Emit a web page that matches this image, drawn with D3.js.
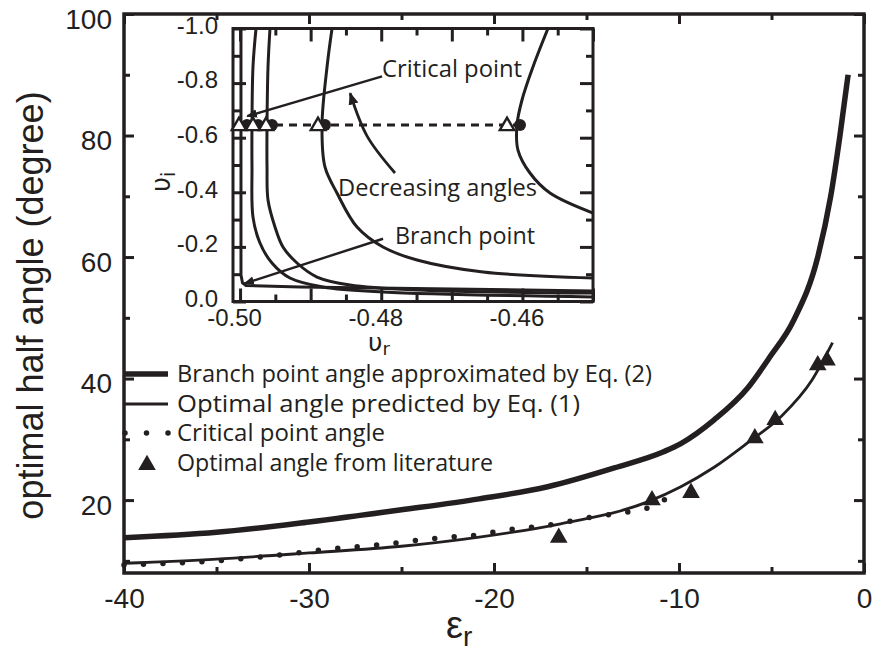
<!DOCTYPE html>
<html><head><meta charset="utf-8">
<script src="https://cdn.jsdelivr.net/npm/d3@7"></script>
<style>
body{margin:0;background:#fff}
svg{display:block}
.ax text{font-family:"Liberation Sans",Arial,sans-serif;fill:#231f20}
.ax line{stroke:#231f20}
.lab{font-family:"Open Sans",sans-serif;fill:#231f20}
</style></head><body>
<svg id="c" width="876" height="654"></svg>
<script>
// ---------------- main chart data ----------------
const xMajor = [-40, -30, -20, -10, 0];
const xMajorLabels = ["-40", "-30", "-20", "-10", "0"];
const xMinor = [-35, -25, -15, -5];
const yMajor = [20, 40, 60, 80, 100];
const yMajorLabels = ["20", "40", "60", "80", "100"];
const yMinor = [10, 30, 50, 70, 90];

// Branch point angle approximated by Eq. (2)
const branchEps = [-40, -35, -30, -25, -20.8, -17.1, -13.5, -10.8, -9.9, -8.1, -6.3, -5.1, -3.8, -2.5, -1.8, -1.3, -0.86];
const branchAng = [13.8, 14.7, 16.4, 18.4, 20.2, 22.2, 25.3, 28.0, 29.3, 33.2, 38.4, 43.5, 49.6, 60.0, 70.0, 80.0, 90.0];
// Optimal angle predicted by Eq. (1)
const optEps = [-40, -35, -30, -25, -20.8, -16.4, -11.7, -9.9, -8.1, -6.3, -4.5, -2.8, -1.7];
const optAng = [9.6, 10.3, 11.3, 12.4, 13.9, 16.1, 19.7, 22.2, 25.4, 29.4, 33.7, 39.8, 45.9];
// Critical point angle
const critEps = [-40, -37.6, -35.5, -31.2, -29, -26, -24.9, -22.8, -20.8, -19.7, -17, -14.7, -13.1, -11.5, -10.3];
const critAng = [9.3, 9.6, 9.9, 11.1, 11.9, 12.7, 13.1, 13.8, 14.3, 14.9, 15.9, 17.2, 17.9, 18.9, 21.0];
// Optimal angle from literature
const litEps = [-16.5, -11.46, -9.35, -5.9, -4.8, -2.5, -2.0];
const litAng = [13.8, 20.0, 21.2, 30.2, 33.2, 42.2, 43.0];

const legendLabels = ["Branch point angle approximated by Eq. (2)", "Optimal angle predicted by Eq. (1)", "Critical point angle", "Optimal angle from literature"];

// ---------------- inset data ----------------
const ixMajor = [-0.50, -0.49, -0.48, -0.47, -0.46, -0.45];
const ixLabelVals = [-0.50, -0.48, -0.46];
const ixLabels = ["-0.50", "-0.48", "-0.46"];
const ixMinor = [-0.495, -0.485, -0.475, -0.465, -0.455];
const iyMajor = [-1.0, -0.8, -0.6, -0.4, -0.2, 0.0];
const iyLabels = ["-1.0", "-0.8", "-0.6", "-0.4", "-0.2", "0.0"];
const iyMinor = [-0.9, -0.7, -0.5, -0.3, -0.1];

const c1r = [-0.49987, -0.49987, -0.49965, -0.49916, -0.49151, -0.45];
const c1i = [-1.0, -0.0971, -0.0678, -0.0586, -0.0531, -0.0385];
const c2r = [-0.49774, -0.49817, -0.49831, -0.49831, -0.49817, -0.49718, -0.49548, -0.49293, -0.48825, -0.47975, -0.45];
const c2i = [-1.0, -0.859, -0.6465, -0.4927, -0.3095, -0.2143, -0.1410, -0.0861, -0.0531, -0.0348, -0.0165];
const c3r = [-0.49576, -0.49604, -0.49618, -0.49618, -0.49604, -0.49505, -0.49392, -0.49193, -0.48910, -0.48443, -0.47493, -0.45];
const c3i = [-1.0, -0.859, -0.6465, -0.4927, -0.3718, -0.2729, -0.1996, -0.1410, -0.0897, -0.0604, -0.0421, -0.0311];
const c4r = [-0.48697, -0.48768, -0.48839, -0.48797, -0.48627, -0.48343, -0.47975, -0.47493, -0.46558, -0.45];
const c4i = [-1.0, -0.859, -0.6465, -0.4927, -0.3974, -0.2729, -0.1996, -0.1520, -0.1081, -0.0861];
const c5r = [-0.45638, -0.45851, -0.46006, -0.46077, -0.46063, -0.45893, -0.45609, -0.45];
const c5i = [-1.0, -0.859, -0.7381, -0.6465, -0.5549, -0.4707, -0.3974, -0.3242];

const critLineI = -0.6465;
const triR = [-0.50015, -0.49817, -0.49632, -0.48896, -0.46218];
const circR = [-0.49902, -0.49746, -0.49548, -0.48797, -0.46034];

// annotations (inset data coords)
const annCritical = {text: "Critical point", tx: -0.47988, ty: -0.821, x1: -0.47988, y1: -0.8248, x2: -0.49898, y2: -0.6788};
const annBranch = {text: "Branch point", tx: -0.47804, ty: -0.2117, x1: -0.47974, y1: -0.2299, x2: -0.4994, y2: -0.0657};
const annDecR = [-0.47805, -0.48200, -0.48441];
const annDecI = [-0.4708, -0.6058, -0.7628];
const annDecText = {text: "Decreasing angles", tx: -0.48611, ty: -0.387};

// ---------------- drawing ----------------
const svg = d3.select('#c');
const ink = '#231f20';
const defs = svg.append('defs');
defs.append('marker').attr('id', 'ah').attr('viewBox', '0 0 10 10').attr('refX', 9).attr('refY', 5)
  .attr('markerWidth', 4.5).attr('markerHeight', 4.5).attr('orient', 'auto-start-reverse').attr('markerUnits', 'strokeWidth')
  .append('path').attr('d', 'M0,1 L10,5 L0,9 z').attr('fill', ink);

const L = 124, R = 864, T = 14, B = 573;
const x = d3.scaleLinear().domain([-40, 0]).range([L, R]);
const y = d3.scaleLinear().domain([8, 100]).range([B, T]);

function styleAxis(g, fs) {
  g.attr('class', 'ax');
  g.select('.domain').remove();
  g.selectAll('line').attr('stroke-width', 3);
  g.selectAll('text').attr('font-size', fs);
}
function lab(arr) { return (d, i) => arr[i]; }

// main axes
svg.append('g').attr('transform', `translate(0,${B})`)
  .call(d3.axisBottom(x).tickValues(xMajor).tickSize(-10).tickPadding(15).tickFormat(lab(xMajorLabels)))
  .call(g => styleAxis(g, 28));
svg.append('g').attr('transform', `translate(0,${B})`)
  .call(d3.axisBottom(x).tickValues(xMinor).tickSize(-6).tickFormat(''))
  .call(g => styleAxis(g, 28));
svg.append('g').attr('transform', `translate(0,${T})`)
  .call(d3.axisTop(x).tickValues(xMajor).tickSize(-10).tickFormat(''))
  .call(g => styleAxis(g, 28));
svg.append('g').attr('transform', `translate(0,${T})`)
  .call(d3.axisTop(x).tickValues(xMinor).tickSize(-6).tickFormat(''))
  .call(g => styleAxis(g, 28));
svg.append('g').attr('transform', `translate(${L},0)`)
  .call(d3.axisLeft(y).tickValues(yMajor).tickSize(-10).tickPadding(12).tickFormat(lab(yMajorLabels)))
  .call(g => { styleAxis(g, 28); g.selectAll('text').attr('dy', '0.5em'); });
svg.append('g').attr('transform', `translate(${L},0)`)
  .call(d3.axisLeft(y).tickValues(yMinor).tickSize(-6).tickFormat(''))
  .call(g => styleAxis(g, 28));
svg.append('g').attr('transform', `translate(${R},0)`)
  .call(d3.axisRight(y).tickValues(yMajor).tickSize(-10).tickFormat(''))
  .call(g => styleAxis(g, 28));
svg.append('g').attr('transform', `translate(${R},0)`)
  .call(d3.axisRight(y).tickValues(yMinor).tickSize(-6).tickFormat(''))
  .call(g => styleAxis(g, 28));
svg.append('rect').attr('x', L).attr('y', T).attr('width', R - L).attr('height', B - T)
  .attr('fill', 'none').attr('stroke', ink).attr('stroke-width', 3.5);

// axis titles
svg.append('text').attr('transform', `translate(43,${(T + B) / 2 + 12}) rotate(-90)`)
  .attr('text-anchor', 'middle').attr('font-family', '"Liberation Sans",Arial,sans-serif')
  .attr('font-size', 36).attr('fill', ink).text('optimal half angle (degree)');
const xt = svg.append('text').attr('x', 446).attr('y', 638).attr('font-family', '"Liberation Sans",Arial,sans-serif')
  .attr('fill', ink);
xt.append('tspan').attr('font-size', 38).text('ε');
xt.append('tspan').attr('font-size', 28).attr('dy', 8).text('r');

// main curves
const mainLine = d3.line().x(d => x(d[0])).y(d => y(d[1])).curve(d3.curveMonotoneX);
const zip = (a, b) => a.map((v, i) => [v, b[i]]);
svg.append('path').attr('d', mainLine(zip(critEps, critAng))).attr('fill', 'none').attr('stroke', ink)
  .attr('stroke-width', 5.5).attr('stroke-linecap', 'round').attr('stroke-dasharray', '0 19.5');
svg.append('path').attr('d', mainLine(zip(optEps, optAng))).attr('fill', 'none').attr('stroke', ink).attr('stroke-width', 2.8);
svg.append('path').attr('d', mainLine(zip(branchEps, branchAng))).attr('fill', 'none').attr('stroke', ink).attr('stroke-width', 5.5);
const triSym = d3.symbol().type(d3.symbolTriangle).size(135);
svg.append('g').selectAll('path').data(zip(litEps, litAng)).join('path')
  .attr('transform', d => `translate(${x(d[0])},${y(d[1])})`).attr('d', triSym).attr('fill', ink);

// legend
const lgY = [374, 404, 433, 463];
const lgW = [475, 403, 208, 316];
const lgX = 177;
svg.append('line').attr('x1', L).attr('x2', 168).attr('y1', lgY[0]).attr('y2', lgY[0]).attr('stroke', ink).attr('stroke-width', 5.5);
svg.append('line').attr('x1', L).attr('x2', 168).attr('y1', lgY[1]).attr('y2', lgY[1]).attr('stroke', ink).attr('stroke-width', 2.8);
svg.append('line').attr('x1', 125).attr('x2', 170).attr('y1', lgY[2]).attr('y2', lgY[2]).attr('stroke', ink)
  .attr('stroke-width', 5.5).attr('stroke-linecap', 'round').attr('stroke-dasharray', '0 21.5');
svg.append('path').attr('transform', `translate(147,${lgY[3] + 2})`).attr('d', triSym).attr('fill', ink);
svg.append('g').selectAll('text').data(legendLabels).join('text').attr('class', 'lab')
  .attr('x', lgX).attr('y', (d, i) => lgY[i] + 8).attr('font-size', 23)
  .attr('textLength', (d, i) => lgW[i]).attr('lengthAdjust', 'spacingAndGlyphs').text(d => d);

// ---------------- inset ----------------
const IL = 233, IR = 593, IT = 28.5, IB = 301.5;
const ix = d3.scaleLinear().domain([-0.501, -0.45]).range([IL, IR]);
const iy = d3.scaleLinear().domain([0, -1]).range([IB, IT]);
svg.append('rect').attr('x', IL).attr('y', IT).attr('width', IR - IL).attr('height', IB - IT).attr('fill', '#fff');
const inset = svg.append('g');
defs.append('clipPath').attr('id', 'iclip').append('rect').attr('x', IL).attr('y', IT).attr('width', IR - IL).attr('height', IB - IT);

const curves = inset.append('g').attr('clip-path', 'url(#iclip)');
const iLine = d3.line().x(d => ix(d[0])).y(d => iy(d[1])).curve(d3.curveCatmullRom.alpha(0.5));
const iLineLin = d3.line().x(d => ix(d[0])).y(d => iy(d[1]));
curves.append('path').attr('d', iLineLin(zip(c1r, c1i))).attr('fill', 'none').attr('stroke', ink).attr('stroke-width', 3);
[[c2r, c2i], [c3r, c3i], [c4r, c4i], [c5r, c5i]].forEach(([a, b]) => {
  curves.append('path').attr('d', iLine(zip(a, b))).attr('fill', 'none').attr('stroke', ink).attr('stroke-width', 3);
});
// dashed critical line
inset.append('line').attr('x1', ix(-0.501)).attr('x2', ix(circR[circR.length - 1])).attr('y1', iy(critLineI)).attr('y2', iy(critLineI))
  .attr('stroke', ink).attr('stroke-width', 2.8).attr('stroke-dasharray', '8 6');

// inset axes
inset.append('g').attr('transform', `translate(0,${IB})`)
  .call(d3.axisBottom(ix).tickValues(ixMajor).tickSize(-13).tickFormat(''))
  .call(g => styleAxis(g, 24));
inset.append('g').attr('transform', `translate(0,${IB})`)
  .call(d3.axisBottom(ix).tickValues(ixMinor).tickSize(-7).tickFormat(''))
  .call(g => styleAxis(g, 24));
inset.append('g').attr('transform', `translate(-6,${IB})`)
  .call(d3.axisBottom(ix).tickValues(ixLabelVals).tickSize(0).tickPadding(7).tickFormat(lab(ixLabels)))
  .call(g => styleAxis(g, 24));
inset.append('g').attr('transform', `translate(0,${IT})`)
  .call(d3.axisTop(ix).tickValues(ixMajor).tickSize(-13).tickFormat(''))
  .call(g => styleAxis(g, 24));
inset.append('g').attr('transform', `translate(0,${IT})`)
  .call(d3.axisTop(ix).tickValues(ixMinor).tickSize(-7).tickFormat(''))
  .call(g => styleAxis(g, 24));
inset.append('g').attr('transform', `translate(${IL},0)`)
  .call(d3.axisLeft(iy).tickValues(iyMajor).tickSize(-13).tickPadding(15).tickFormat(lab(iyLabels)))
  .call(g => { styleAxis(g, 24); g.selectAll('text').attr('dy', '0.2em'); });
inset.append('g').attr('transform', `translate(${IL},0)`)
  .call(d3.axisLeft(iy).tickValues(iyMinor).tickSize(-7).tickFormat(''))
  .call(g => styleAxis(g, 24));
inset.append('g').attr('transform', `translate(${IR},0)`)
  .call(d3.axisRight(iy).tickValues(iyMajor).tickSize(-13).tickFormat(''))
  .call(g => styleAxis(g, 24));
inset.append('g').attr('transform', `translate(${IR},0)`)
  .call(d3.axisRight(iy).tickValues(iyMinor).tickSize(-7).tickFormat(''))
  .call(g => styleAxis(g, 24));
inset.append('rect').attr('x', IL).attr('y', IT).attr('width', IR - IL).attr('height', IB - IT)
  .attr('fill', 'none').attr('stroke', ink).attr('stroke-width', 3);

// markers on critical line (circles, then open triangles on top)
const openTri = d3.symbol().type(d3.symbolTriangle).size(90);
inset.append('g').selectAll('circle').data(circR).join('circle')
  .attr('cx', d => ix(d)).attr('cy', iy(critLineI)).attr('r', 6).attr('fill', ink);
inset.append('g').selectAll('path').data(triR).join('path')
  .attr('transform', d => `translate(${ix(d)},${iy(critLineI) + 1})`).attr('d', openTri)
  .attr('fill', '#fff').attr('stroke', ink).attr('stroke-width', 2.4);

// annotations
const annW = {"Critical point": 140, "Branch point": 140, "Decreasing angles": 199};
[annCritical, annBranch].forEach(a => {
  inset.append('line').attr('x1', ix(a.x1)).attr('y1', iy(a.y1)).attr('x2', ix(a.x2)).attr('y2', iy(a.y2))
    .attr('stroke', ink).attr('stroke-width', 2.4).attr('marker-end', 'url(#ah)');
  inset.append('text').attr('class', 'lab').attr('x', ix(a.tx)).attr('y', iy(a.ty)).attr('font-size', 23)
    .attr('textLength', annW[a.text]).attr('lengthAdjust', 'spacingAndGlyphs').text(a.text);
});
inset.append('path').attr('d', d3.line().x(d => ix(d[0])).y(d => iy(d[1])).curve(d3.curveNatural)(zip(annDecR, annDecI)))
  .attr('fill', 'none').attr('stroke', ink).attr('stroke-width', 2.8).attr('marker-end', 'url(#ah)');
inset.append('text').attr('class', 'lab').attr('x', ix(annDecText.tx)).attr('y', iy(annDecText.ty)).attr('font-size', 23)
  .attr('textLength', annW[annDecText.text]).attr('lengthAdjust', 'spacingAndGlyphs').text(annDecText.text);

// inset axis titles
const it1 = svg.append('text').attr('x', 368).attr('y', 351).attr('font-family', '"DejaVu Sans",sans-serif').attr('fill', ink);
it1.append('tspan').attr('font-size', 25).text('υ');
it1.append('tspan').attr('font-size', 18).attr('dy', 4).text('r');
const it2 = svg.append('text').attr('transform', 'translate(170,192) rotate(-90)').attr('font-family', '"DejaVu Sans",sans-serif').attr('fill', ink);
it2.append('tspan').attr('font-size', 26).text('υ');
it2.append('tspan').attr('font-size', 19).attr('dy', 5).text('i');
</script>
</body></html>
